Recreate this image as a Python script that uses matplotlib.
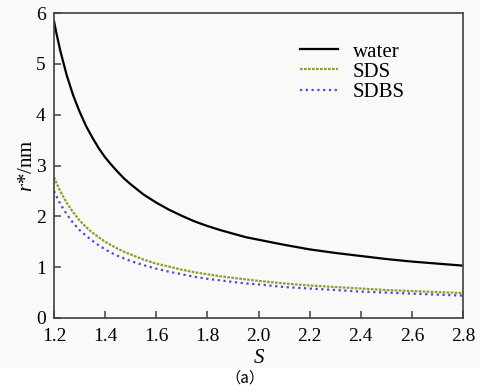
import matplotlib
matplotlib.use("Agg")
import matplotlib.pyplot as plt
from matplotlib.patches import Rectangle

S = [1.2, 1.21, 1.225, 1.25, 1.275, 1.3, 1.325, 1.35, 1.375, 1.4, 1.425, 1.45,
     1.475, 1.5, 1.55, 1.6, 1.65, 1.7, 1.75, 1.8, 1.85, 1.9, 1.95, 2.0,
     2.1, 2.2, 2.3, 2.4, 2.5, 2.6, 2.7, 2.8]
water = [5.84, 5.59, 5.25, 4.77, 4.38, 4.06, 3.78, 3.55, 3.34, 3.16, 3.01, 2.87,
         2.74, 2.63, 2.43, 2.27, 2.13, 2.01, 1.90, 1.81, 1.73, 1.66, 1.59, 1.54,
         1.44, 1.35, 1.28, 1.22, 1.16, 1.11, 1.07, 1.03]
sds = [2.77, 2.65, 2.49, 2.26, 2.08, 1.92, 1.79, 1.68, 1.59, 1.50, 1.43, 1.36,
       1.30, 1.25, 1.15, 1.07, 1.01, 0.95, 0.90, 0.86, 0.82, 0.79, 0.76, 0.73,
       0.68, 0.64, 0.61, 0.58, 0.55, 0.53, 0.51, 0.49]
sdbs = [2.50, 2.39, 2.24, 2.04, 1.87, 1.73, 1.62, 1.52, 1.43, 1.35, 1.28, 1.22,
        1.17, 1.12, 1.04, 0.97, 0.91, 0.86, 0.81, 0.77, 0.74, 0.71, 0.68, 0.66,
        0.61, 0.58, 0.55, 0.52, 0.50, 0.48, 0.46, 0.44]
xticks = [1.2, 1.4, 1.6, 1.8, 2.0, 2.2, 2.4, 2.6, 2.8]
yticks = [0, 1, 2, 3, 4, 5, 6]

SERIF = ['Liberation Serif', 'DejaVu Serif']
plt.rcParams['font.family'] = SERIF
plt.rcParams['mathtext.fontset'] = 'custom'
plt.rcParams['mathtext.it'] = 'Liberation Serif:italic'
plt.rcParams['mathtext.rm'] = 'Liberation Serif'

fig = plt.figure(figsize=(4.8, 3.92), dpi=100, facecolor='#f9f9f9')
fig.patches.append(Rectangle((0, 0), 1, 24/392, transform=fig.transFigure,
                             facecolor='white', edgecolor='none', zorder=0))
ax = fig.add_axes([54/480, 74/392, 409/480, 305/392])
ax.set_facecolor('#f9f9f9')

ax.plot(S, water, color='black', lw=1.6, label='water')
ax.plot(S, sds, color='#9a9a2a', lw=1.6, ls=(0, (1.2, 0.6)), label='SDS')
ax.plot(S, sdbs, color='#4a4ad0', lw=1.6, ls=(0, (1, 1.6)), label='SDBS')

ax.set_xlim(1.2, 2.8)
ax.set_ylim(0, 6)
ax.set_xticks(xticks)
ax.set_xticklabels([f"{v:.1f}" for v in xticks], family=SERIF, fontsize=14)
ax.set_yticks(yticks)
ax.set_yticklabels([str(v) for v in yticks], family=SERIF, fontsize=14)
ax.tick_params(direction='in', length=5, width=1.1, color='#404040')
ax.tick_params(axis='x', pad=7)
ax.tick_params(axis='y', pad=6)
for sp in ax.spines.values():
    sp.set_color('#404040')
    sp.set_linewidth(1.2)

ax.set_xlabel('S', fontstyle='italic', fontsize=15, family=SERIF, labelpad=3)
ax.set_ylabel(r'$r$*/nm', fontsize=15, family=SERIF, labelpad=-1)

leg = ax.legend(loc='upper left', bbox_to_anchor=(0.601, 0.905), frameon=False,
                prop={'family': SERIF, 'size': 15}, handlelength=1.85,
                handletextpad=0.7, labelspacing=0.03, borderpad=0,
                borderaxespad=0)

fig.text(245/480, 1 - 378/392, '（a）', ha='center', va='center', fontsize=11,
         family=['Noto Sans CJK SC', 'DejaVu Sans'])

fig.savefig('out.png', dpi=100, facecolor=fig.get_facecolor())
